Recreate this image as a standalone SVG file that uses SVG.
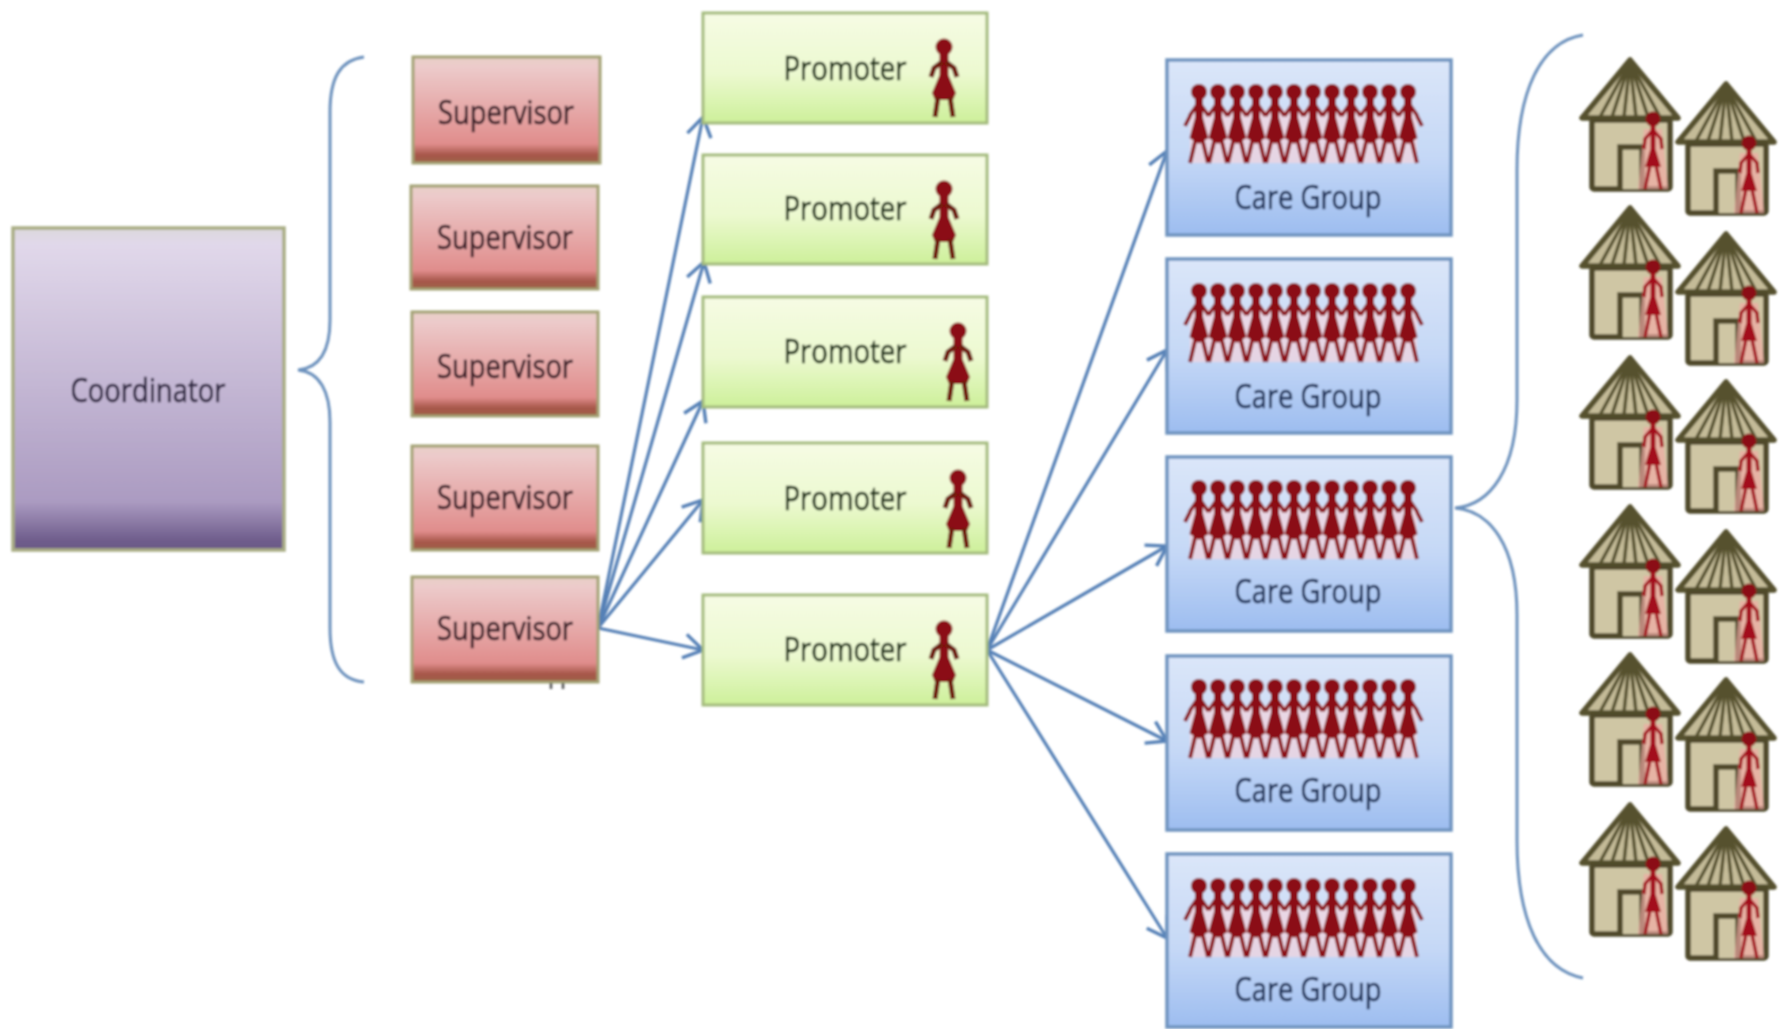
<svg xmlns="http://www.w3.org/2000/svg" xmlns:xlink="http://www.w3.org/1999/xlink" width="1783" height="1029" viewBox="0 0 1783 1029">
<style>
text{font-family:"Open Sans","Liberation Sans",sans-serif;font-size:33px;text-anchor:middle;stroke-width:.7px}
.sup{fill:url(#gs);stroke:#a3a274;stroke-width:3}
.pro{fill:url(#gp);stroke:#a4bb7e;stroke-width:3}
.cg{fill:url(#gc);stroke:#6f94c0;stroke-width:3.5}
.ts{fill:#3a1f28;stroke:#3a1f28}.tp{fill:#1f3014;stroke:#1f3014}.tc{fill:#1d3159;stroke:#1d3159}.tk{fill:#2f2642;stroke:#2f2642}
.conn{fill:none;stroke:#5580b6;stroke-width:3.2;marker-end:url(#arr)}
.brace{fill:none;stroke:#6d92bd;stroke-width:3}
</style>
<defs>
<filter id="soft" filterUnits="userSpaceOnUse" x="0" y="0" width="1783" height="1029"><feGaussianBlur stdDeviation="0.8"/></filter>
<linearGradient id="gk" x1="0" y1="0" x2="0" y2="1"><stop offset="0" stop-color="#dcd8dc"/><stop offset=".05" stop-color="#e1d8ea"/><stop offset=".85" stop-color="#ab9bc1"/><stop offset=".97" stop-color="#6f5d8c"/><stop offset="1" stop-color="#6a5886"/></linearGradient>
<linearGradient id="gs" x1="0" y1="0" x2="0" y2="1"><stop offset="0" stop-color="#e8d0c8"/><stop offset=".1" stop-color="#eccaca"/><stop offset=".82" stop-color="#e08d8c"/><stop offset=".92" stop-color="#a8584c"/><stop offset="1" stop-color="#9c5e44"/></linearGradient>
<linearGradient id="gp" x1="0" y1="0" x2="0" y2="1"><stop offset="0" stop-color="#f6fbe4"/><stop offset=".55" stop-color="#ecf9d0"/><stop offset="1" stop-color="#cdf09a"/></linearGradient>
<linearGradient id="gc" x1="0" y1="0" x2="0" y2="1"><stop offset="0" stop-color="#dbe6f9"/><stop offset=".55" stop-color="#c5d8f6"/><stop offset="1" stop-color="#9dbdf0"/></linearGradient>
<marker id="arr" markerUnits="userSpaceOnUse" markerWidth="28" markerHeight="30" refX="22" refY="15" orient="auto"><path d="M3,3 L22,15 L3,27" fill="none" stroke="#5580b6" stroke-width="3.4"/></marker>
<g id="person">
<circle cx="0" cy="0" r="8.5" fill="#8b0f12"/>
<path d="M-4.5,7 H4.5 V28 L12,46 L9,53 H-9 L-12,46 L-4.5,28 Z" fill="#8b0f12"/>
<path d="M-2,15 L-10,21 L-13,30 M2,15 L10,21 L13,30 M-6,50 L-9,70 M6,50 L9,70" fill="none" stroke="#6e1a10" stroke-width="5"/>
</g>
<g id="hperson">
<path d="M-9,10 H9 L15,70 H-15 Z" fill="#f3a9a5" opacity=".65"/>
<circle cx="0" cy="0" r="7.5" fill="#8b0f12"/>
<path d="M-2.5,6 H2.5 V30 L8,48 H-8 L-2.5,30 Z" fill="#a3101a"/>
<path d="M-1,12 L-8,20 L-9,30 M1,12 L8,20 L9,30 M-3,46 L-8,70 M3,46 L8,70" fill="none" stroke="#a3101a" stroke-width="3.4"/>
</g>
<g id="linked">
<circle cx="0" cy="0" r="8" fill="#8b0f12"/>
<path d="M-4,7 H4 V26 L9.5,46 L0,52 L-9.5,46 L-4,26 Z" fill="#8b0f12"/>
<path d="M-2,13 L-9.5,24 M2,13 L9.5,24 M-3,46 L-9,71 M3,46 L9,71" fill="none" stroke="#8b0f12" stroke-width="3.8"/>
</g>
<g id="crowd">
<rect x="-9" y="18" width="227" height="53" rx="3" fill="#fbd3d8" opacity=".6"/>
<use href="#linked" x="0"/><use href="#linked" x="19"/><use href="#linked" x="38"/><use href="#linked" x="57"/><use href="#linked" x="76"/><use href="#linked" x="95"/><use href="#linked" x="114"/><use href="#linked" x="133"/><use href="#linked" x="152"/><use href="#linked" x="171"/><use href="#linked" x="190"/><use href="#linked" x="209"/>
<path d="M-9,24 L-14,34 M218,24 L223,34" stroke="#8b0f12" stroke-width="3.8"/>
</g>
<g id="house">
<path d="M0,0 L-48,58 H48 Z" fill="#c4bb98" stroke="#56512f" stroke-width="5.5" stroke-linejoin="round"/>
<path d="M0,2 L-30,57 M0,2 L-18,57 M0,2 L-6,57 M0,2 L6,57 M0,2 L18,57 M0,2 L30,57" fill="none" stroke="#56512f" stroke-width="3.4"/>
<rect x="-38" y="60" width="78" height="69" rx="2" fill="#cfc6a4" stroke="#4f4a2c" stroke-width="5.5"/>
<path d="M-10,129 V87 H12 V129" fill="#cfc6a4" stroke="#4f4a2c" stroke-width="5.5"/>
<use href="#hperson" x="23" y="59"/>
</g>
</defs>
<rect width="1783" height="1029" fill="#fff"/>
<g filter="url(#soft)">
<g id="connectors">
<path class="brace" d="M364,57 C340,60 330,78 330,112 L330,320 C330,350 320,368 298,370 C320,372 330,392 330,422 L330,628 C330,662 340,680 364,682"/>
<path class="brace" d="M1583,35 C1540,42 1517,92 1517,170 L1517,400 C1517,470 1490,505 1455,508 C1490,511 1517,545 1517,615 L1517,840 C1517,920 1540,970 1583,978"/>
<path class="conn" d="M598,628 L703,117"/>
<path class="conn" d="M598,628 L704,262"/>
<path class="conn" d="M598,628 L703,401"/>
<path class="conn" d="M598,628 L703,500"/>
<path class="conn" d="M598,628 L703,650"/>
<path class="conn" d="M987,650 L1167,151"/>
<path class="conn" d="M987,650 L1167,350"/>
<path class="conn" d="M987,650 L1167,546"/>
<path class="conn" d="M987,650 L1167,741"/>
<path class="conn" d="M987,650 L1167,938"/>
</g>
<g id="coordinator"><rect x="13" y="228" width="271" height="322" fill="url(#gk)" stroke="#a9ad84" stroke-width="3.5"/><text class="tk" x="148" y="402" textLength="155" lengthAdjust="spacingAndGlyphs">Coordinator</text></g>
<g id="supervisor-1"><rect class="sup" x="413" y="57" width="187" height="106"/><text class="ts" x="506" y="124" textLength="136" lengthAdjust="spacingAndGlyphs">Supervisor</text></g>
<g id="supervisor-2"><rect class="sup" x="411" y="186" width="187" height="103"/><text class="ts" x="505" y="249" textLength="136" lengthAdjust="spacingAndGlyphs">Supervisor</text></g>
<g id="supervisor-3"><rect class="sup" x="412" y="312" width="186" height="104"/><text class="ts" x="505" y="378" textLength="136" lengthAdjust="spacingAndGlyphs">Supervisor</text></g>
<g id="supervisor-4"><rect class="sup" x="412" y="446" width="186" height="104"/><text class="ts" x="505" y="509" textLength="136" lengthAdjust="spacingAndGlyphs">Supervisor</text></g>
<g id="supervisor-5"><rect class="sup" x="412" y="577" width="186" height="105"/><text class="ts" x="505" y="640" textLength="136" lengthAdjust="spacingAndGlyphs">Supervisor</text></g>
<path d="M551,683 v6 M563,683 v6" stroke="#555" stroke-width="2.5"/>
<g id="promoter-1"><rect class="pro" x="703" y="13" width="284" height="110"/><text class="tp" x="845" y="80" textLength="123" lengthAdjust="spacingAndGlyphs">Promoter</text><use href="#person" x="944" y="47"/></g>
<g id="promoter-2"><rect class="pro" x="703" y="155" width="284" height="109"/><text class="tp" x="845" y="220" textLength="123" lengthAdjust="spacingAndGlyphs">Promoter</text><use href="#person" x="944" y="189"/></g>
<g id="promoter-3"><rect class="pro" x="703" y="297" width="284" height="110"/><text class="tp" x="845" y="363" textLength="123" lengthAdjust="spacingAndGlyphs">Promoter</text><use href="#person" x="958" y="331"/></g>
<g id="promoter-4"><rect class="pro" x="703" y="443" width="284" height="110"/><text class="tp" x="845" y="510" textLength="123" lengthAdjust="spacingAndGlyphs">Promoter</text><use href="#person" x="958" y="478"/></g>
<g id="promoter-5"><rect class="pro" x="703" y="595" width="284" height="110"/><text class="tp" x="845" y="661" textLength="123" lengthAdjust="spacingAndGlyphs">Promoter</text><use href="#person" x="944" y="629"/></g>
<g id="care-group-1"><rect class="cg" x="1167" y="60" width="284" height="175"/><use href="#crowd" x="1199" y="92"/><text class="tc" x="1308" y="209" textLength="147" lengthAdjust="spacingAndGlyphs">Care Group</text></g>
<g id="care-group-2"><rect class="cg" x="1167" y="259" width="284" height="174"/><use href="#crowd" x="1199" y="291"/><text class="tc" x="1308" y="408" textLength="147" lengthAdjust="spacingAndGlyphs">Care Group</text></g>
<g id="care-group-3"><rect class="cg" x="1167" y="457" width="284" height="174"/><use href="#crowd" x="1199" y="488"/><text class="tc" x="1308" y="603" textLength="147" lengthAdjust="spacingAndGlyphs">Care Group</text></g>
<g id="care-group-4"><rect class="cg" x="1167" y="656" width="284" height="174"/><use href="#crowd" x="1199" y="687"/><text class="tc" x="1308" y="802" textLength="147" lengthAdjust="spacingAndGlyphs">Care Group</text></g>
<g id="care-group-5"><rect class="cg" x="1167" y="854" width="284" height="173"/><use href="#crowd" x="1199" y="886"/><text class="tc" x="1308" y="1001" textLength="147" lengthAdjust="spacingAndGlyphs">Care Group</text></g>
<g id="houses">
<use href="#house" x="1630" y="60"/><use href="#house" x="1726" y="84"/>
<use href="#house" x="1630" y="208"/><use href="#house" x="1726" y="234"/>
<use href="#house" x="1630" y="358"/><use href="#house" x="1726" y="382"/>
<use href="#house" x="1630" y="507"/><use href="#house" x="1726" y="532"/>
<use href="#house" x="1630" y="655"/><use href="#house" x="1726" y="680"/>
<use href="#house" x="1630" y="805"/><use href="#house" x="1726" y="829"/>
</g>
</g>
</svg>
